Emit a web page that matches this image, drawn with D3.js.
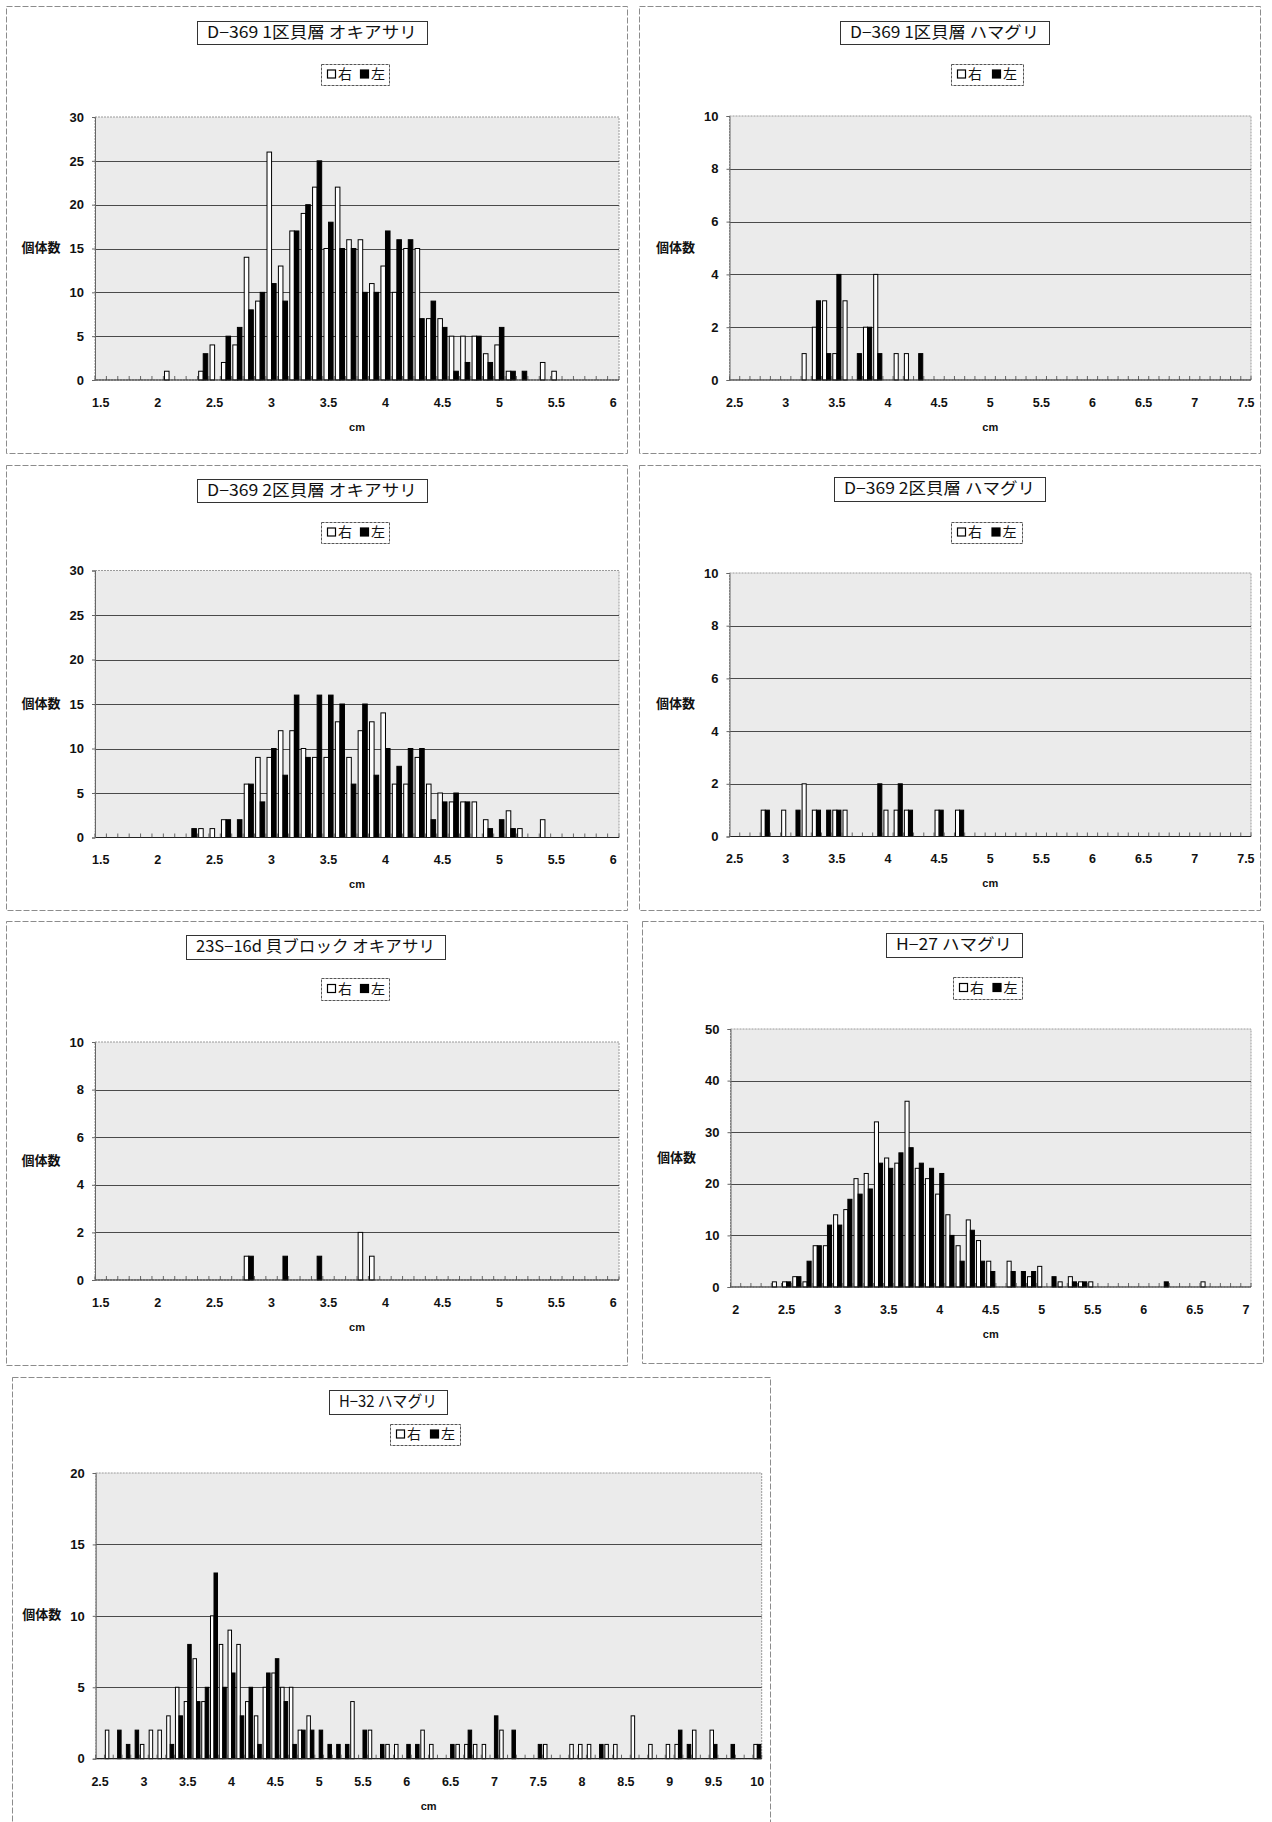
<!DOCTYPE html>
<html><head><meta charset="utf-8">
<script src="https://cdn.jsdelivr.net/npm/d3@7"></script>
<style>body{margin:0;background:#fff}</style>
</head><body><svg id="c" width="1272" height="1822"></svg>
<script>
// ================= DATA =================
const titles = ["D−369 1区貝層 オキアサリ", "D−369 1区貝層 ハマグリ", "D−369 2区貝層 オキアサリ",
  "D−369 2区貝層 ハマグリ", "23S−16d 貝ブロック オキアサリ", "H−27 ハマグリ", "H−32 ハマグリ"];
const seriesNames = ["右", "左"];
const yLabel = "個体数";
const xLabel = "cm";
// size classes (0.1 cm) per panel: first and last class
const binStart = [1.5, 2.5, 1.5, 2.5, 1.5, 2.0, 2.5];
const binEnd   = [6.0, 7.5, 6.0, 7.5, 6.0, 7.0, 10.0];
const yMax  = [30, 10, 30, 10, 10, 50, 20];
const yStep = [5, 2, 5, 2, 2, 10, 5];
const ticksA = ["1.5","2","2.5","3","3.5","4","4.5","5","5.5","6"];
const ticksB = ["2.5","3","3.5","4","4.5","5","5.5","6","6.5","7","7.5"];
const ticksC = ["2","2.5","3","3.5","4","4.5","5","5.5","6","6.5","7"];
const ticksD = ["2.5","3","3.5","4","4.5","5","5.5","6","6.5","7","7.5","8","8.5","9","9.5","10"];

// [class (cm), count]  右 = white, 左 = black
const p1Right = [[2.1,1],[2.4,1],[2.5,4],[2.6,2],[2.7,4],[2.8,14],[2.9,9],[3.0,26],[3.1,13],[3.2,17],[3.3,19],[3.4,22],[3.5,15],[3.6,22],[3.7,16],[3.8,16],[3.9,11],[4.0,13],[4.1,10],[4.2,15],[4.3,15],[4.4,7],[4.5,7],[4.6,5],[4.7,5],[4.8,5],[4.9,3],[5.0,4],[5.1,1],[5.4,2],[5.5,1]];
const p1Left  = [[2.4,3],[2.6,5],[2.7,6],[2.8,8],[2.9,10],[3.0,11],[3.1,9],[3.2,17],[3.3,20],[3.4,25],[3.5,18],[3.6,15],[3.7,15],[3.8,10],[3.9,10],[4.0,17],[4.1,16],[4.2,16],[4.3,7],[4.4,9],[4.5,6],[4.6,1],[4.7,2],[4.8,5],[4.9,2],[5.0,6],[5.1,1],[5.2,1]];
const p2Right = [[3.2,1],[3.3,2],[3.4,3],[3.5,1],[3.6,3],[3.8,2],[3.9,4],[4.1,1],[4.2,1]];
const p2Left  = [[3.3,3],[3.4,1],[3.5,4],[3.7,1],[3.8,2],[3.9,1],[4.3,1]];
const p3Right = [[2.4,1],[2.5,1],[2.6,2],[2.8,6],[2.9,9],[3.0,9],[3.1,12],[3.2,12],[3.3,10],[3.4,9],[3.5,9],[3.6,13],[3.7,9],[3.8,12],[3.9,13],[4.0,14],[4.1,6],[4.2,6],[4.3,9],[4.4,6],[4.5,5],[4.6,4],[4.7,4],[4.8,4],[4.9,2],[5.1,3],[5.2,1],[5.4,2]];
const p3Left  = [[2.3,1],[2.6,2],[2.7,2],[2.8,6],[2.9,4],[3.0,10],[3.1,7],[3.2,16],[3.3,9],[3.4,16],[3.5,16],[3.6,15],[3.7,6],[3.8,15],[3.9,7],[4.0,10],[4.1,8],[4.2,10],[4.3,10],[4.4,2],[4.5,4],[4.6,5],[4.7,4],[4.9,1],[5.0,2],[5.1,1]];
const p4Right = [[2.8,1],[3.0,1],[3.2,2],[3.3,1],[3.5,1],[3.6,1],[4.0,1],[4.1,1],[4.2,1],[4.5,1],[4.7,1]];
const p4Left  = [[2.8,1],[3.1,1],[3.3,1],[3.4,1],[3.5,1],[3.9,2],[4.1,2],[4.2,1],[4.5,1],[4.7,1]];
const p5Right = [[2.8,1],[3.8,2],[3.9,1]];
const p5Left  = [[2.8,1],[3.1,1],[3.4,1]];
const p6Right = [[2.4,1],[2.5,1],[2.6,2],[2.7,1],[2.8,8],[2.9,8],[3.0,14],[3.1,15],[3.2,21],[3.3,22],[3.4,32],[3.5,25],[3.6,24],[3.7,36],[3.8,23],[3.9,21],[4.0,18],[4.1,14],[4.2,8],[4.3,13],[4.4,9],[4.5,5],[4.7,5],[4.9,2],[5.0,4],[5.2,1],[5.3,2],[5.4,1],[5.5,1],[6.6,1]];
const p6Left  = [[2.5,1],[2.6,2],[2.7,5],[2.8,8],[2.9,12],[3.0,12],[3.1,17],[3.2,18],[3.3,19],[3.4,24],[3.5,23],[3.6,26],[3.7,27],[3.8,24],[3.9,23],[4.0,22],[4.1,10],[4.2,5],[4.3,11],[4.4,5],[4.5,3],[4.7,3],[4.8,3],[4.9,3],[5.1,2],[5.3,1],[5.4,1],[6.2,1]];
const p7Right = [[2.6,2],[3.0,1],[3.1,2],[3.2,2],[3.3,3],[3.4,5],[3.5,4],[3.6,7],[3.7,4],[3.8,10],[3.9,8],[4.0,9],[4.1,8],[4.2,4],[4.3,3],[4.4,5],[4.5,6],[4.6,5],[4.7,5],[4.8,2],[4.9,3],[5.4,4],[5.6,2],[5.8,1],[5.9,1],[6.2,2],[6.3,1],[6.6,1],[6.7,1],[6.8,1],[6.9,1],[7.1,2],[7.6,1],[7.9,1],[8.0,1],[8.1,1],[8.3,1],[8.4,1],[8.6,3],[8.8,1],[9.0,1],[9.1,1],[9.3,2],[9.5,2],[10.0,1]];
const p7Left  = [[2.7,2],[2.8,1],[2.9,2],[3.3,1],[3.4,3],[3.5,8],[3.6,4],[3.7,5],[3.8,13],[3.9,5],[4.0,6],[4.1,3],[4.2,5],[4.3,1],[4.4,6],[4.5,7],[4.6,4],[4.7,1],[4.8,2],[4.9,2],[5.0,2],[5.1,1],[5.2,1],[5.3,1],[5.5,2],[5.7,1],[6.0,1],[6.1,1],[6.5,1],[6.7,2],[7.0,3],[7.2,2],[7.5,1],[8.2,1],[9.1,2],[9.2,1],[9.5,1],[9.7,1],[10.0,1]];

const tickSets = [ticksA, ticksB, ticksA, ticksB, ticksA, ticksC, ticksD];
const rightSets = [p1Right, p2Right, p3Right, p4Right, p5Right, p6Right, p7Right];
const leftSets  = [p1Left, p2Left, p3Left, p4Left, p5Left, p6Left, p7Left];

// ================= LAYOUT (pixels) =================
const layout = [
  {frame:[6,6,621,447],    plot:[95,117,619,380],          title:[197,21,230,23],  legend:[321,64,68,21]},
  {frame:[639,6,621,447],  plot:[729.5,116,1251,380],      title:[840,21,209,23],  legend:[951,64,72,21]},
  {frame:[6,465,621,445],  plot:[95,570.5,619,837.5],      title:[197,479,230,23], legend:[321,522,68,21]},
  {frame:[639,465,621,445],plot:[729.5,573,1251,836.5],    title:[834,477,211,24], legend:[951,522,71,21]},
  {frame:[6,921,621,444],  plot:[95,1042,619,1280],        title:[186,935,259,24], legend:[321,978,68,22]},
  {frame:[642,921,621,442],plot:[730.5,1029,1251,1287],    title:[886,933,136,24], legend:[953,977,69,22]},
  {frame:[12,1377,758,460],plot:[95.7,1473,761.7,1758.7],  title:[329,1390,118,24], legend:[390,1424,70,21]}
];

const numFont = '"Liberation Sans",Arial,sans-serif';
const cjkFont = '"Noto Sans CJK JP","Noto Sans CJK SC",sans-serif';

function classesOf(s, e) {
  const n = Math.round((e - s) * 10);
  return d3.range(n + 1).map(k => (s + k / 10).toFixed(1));
}

const svg = d3.select("#c");

titles.forEach((title, i) => {
  const L = layout[i];
  const g = svg.append("g");
  g.append("rect").attr("x", L.frame[0] + .5).attr("y", L.frame[1] + .5)
    .attr("width", L.frame[2]).attr("height", L.frame[3])
    .attr("fill", "none").attr("stroke", "#8c8c8c").attr("stroke-dasharray", "6,2");

  const [px0, py0, px1, py1] = L.plot;
  const cats = classesOf(binStart[i], binEnd[i]);
  const x = d3.scaleBand().domain(cats).range([px0, px1]).padding(0);
  const y = d3.scaleLinear().domain([0, yMax[i]]).range([py1, py0]);
  const s = d3.scaleBand().domain(seriesNames).range([x.bandwidth() * 0.1, x.bandwidth() * 0.9]);

  g.append("rect").attr("x", px0).attr("y", py0).attr("width", px1 - px0).attr("height", py1 - py0)
    .attr("fill", "#ebebeb").attr("stroke", "#9a9a9a").attr("stroke-dasharray", "2,1");

  const yt = d3.range(0, yMax[i] + yStep[i] / 2, yStep[i]);
  g.selectAll("line.grid").data(yt.filter(v => v > 0 && v < yMax[i])).join("line")
    .attr("class", "grid")
    .attr("x1", px0).attr("x2", px1)
    .attr("y1", d => Math.round(y(d)) + .5).attr("y2", d => Math.round(y(d)) + .5)
    .attr("stroke", "#4a4a4a").attr("stroke-width", 1);

  [rightSets[i], leftSets[i]].forEach((ser, si) => {
    g.selectAll(null).data(ser).join("rect")
      .attr("x", d => x(d[0].toFixed(1)) + s(seriesNames[si]))
      .attr("y", d => y(d[1]))
      .attr("width", s.bandwidth())
      .attr("height", d => y(0) - y(d[1]))
      .attr("fill", si === 0 ? "#ffffff" : "#000000")
      .attr("stroke", "#000").attr("stroke-width", 1);
  });

  g.append("line").attr("x1", px0).attr("x2", px1).attr("y1", py1).attr("y2", py1)
    .attr("stroke", "#222").attr("stroke-width", 1.2);
  g.selectAll("line.ct").data(cats.concat(["end"])).join("line").attr("class", "ct")
    .attr("x1", d => d === "end" ? px1 : x(d)).attr("x2", d => d === "end" ? px1 : x(d))
    .attr("y1", py1).attr("y2", py1 - 4).attr("stroke", "#444").attr("stroke-width", 0.8);

  const labels = tickSets[i];
  const xa = d3.axisBottom(x).tickValues(cats.filter((c, k) => k % 5 === 0))
    .tickFormat(c => labels[cats.indexOf(c) / 5]).tickSize(0).tickPadding(18);
  const gx = g.append("g").attr("transform", `translate(0,${py1})`).call(xa);
  gx.select(".domain").remove();
  gx.selectAll("text").attr("font-family", numFont).attr("font-size", 12.5).attr("font-weight", "bold").attr("fill", "#111");

  const ya = d3.axisLeft(y).tickValues(yt).tickSize(3).tickPadding(8);
  const gy = g.append("g").attr("transform", `translate(${px0},0)`).call(ya);
  gy.select(".domain").attr("stroke", "#666");
  gy.selectAll(".tick line").attr("stroke", "#666");
  gy.selectAll("text").attr("font-family", numFont).attr("font-size", 13).attr("font-weight", "bold").attr("fill", "#111");

  g.append("text").attr("x", px0 - 54).attr("y", (py0 + py1) / 2).attr("text-anchor", "middle")
    .attr("dominant-baseline", "middle").attr("font-family", cjkFont).attr("font-size", 13)
    .attr("font-weight", "bold").attr("fill", "#111").text(yLabel);
  g.append("text").attr("x", (px0 + px1) / 2).attr("y", py1 + 48).attr("text-anchor", "middle")
    .attr("dominant-baseline", "middle").attr("font-family", numFont).attr("font-size", 11)
    .attr("font-weight", "bold").attr("fill", "#111").text(xLabel);

  const [tx, ty, tw, th] = L.title;
  g.append("rect").attr("x", tx + .5).attr("y", ty + .5).attr("width", tw).attr("height", th)
    .attr("fill", "#fff").attr("stroke", "#333").attr("stroke-width", 1);
  g.append("text").attr("x", tx + tw / 2).attr("y", ty + th / 2 + 1).attr("text-anchor", "middle")
    .attr("dominant-baseline", "middle").attr("font-family", cjkFont).attr("font-size", 16)
    .attr("textLength", tw - 20).attr("lengthAdjust", "spacingAndGlyphs")
    .attr("fill", "#111").text(title);

  const [lx, ly, lw, lh] = L.legend;
  g.append("rect").attr("x", lx + .5).attr("y", ly + .5).attr("width", lw).attr("height", lh)
    .attr("fill", "#fff").attr("stroke", "#555").attr("stroke-width", 1).attr("stroke-dasharray", "3,1");
  const cy = ly + lh / 2;
  const step = lw / 2;
  seriesNames.forEach((nm, k) => {
    const bx = lx + 6 + k * (step - 1);
    g.append("rect").attr("x", bx + .5).attr("y", cy - 4.5).attr("width", 8).attr("height", 8)
      .attr("fill", k === 0 ? "#fff" : "#000").attr("stroke", "#000").attr("stroke-width", 1.2);
    g.append("text").attr("x", bx + 11).attr("y", cy + 1).attr("dominant-baseline", "middle")
      .attr("font-family", cjkFont).attr("font-size", 14).attr("fill", "#111").text(nm);
  });
});
</script>
</body></html>
